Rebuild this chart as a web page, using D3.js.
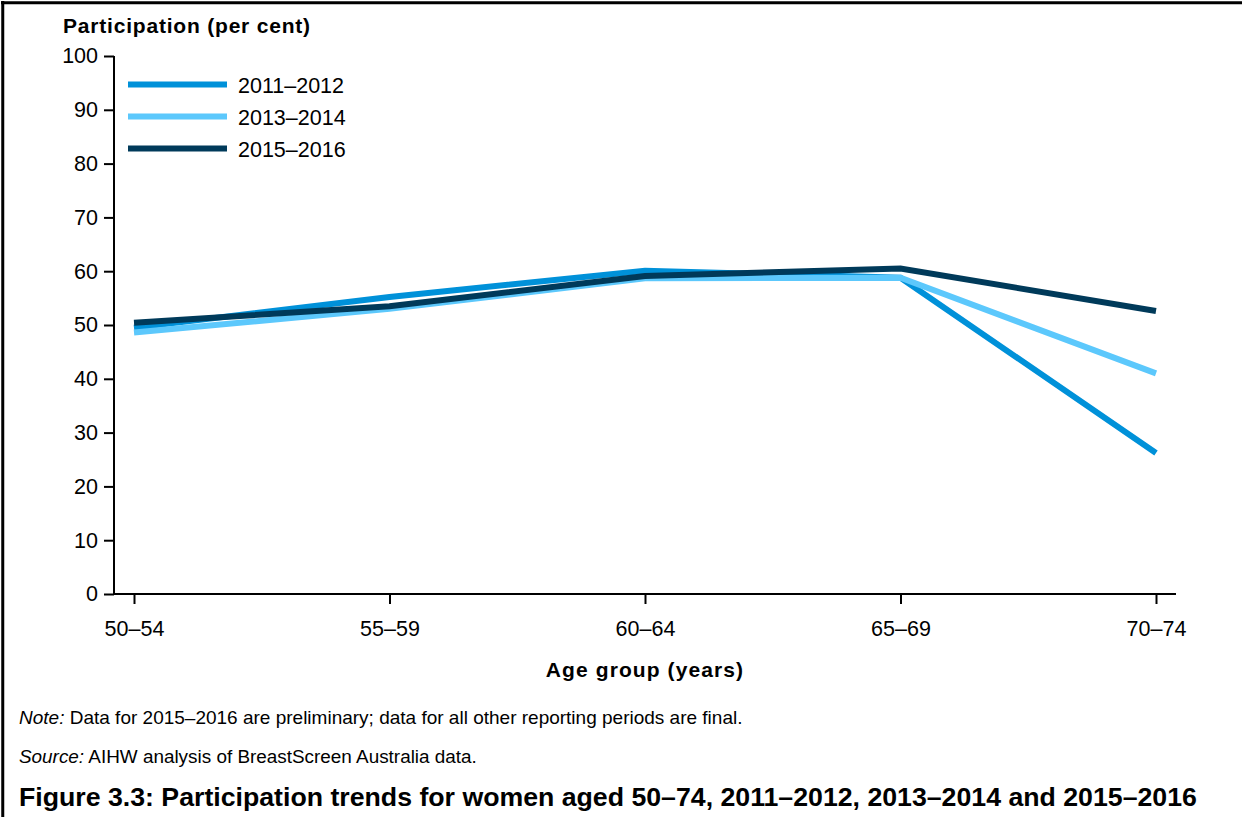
<!DOCTYPE html>
<html>
<head>
<meta charset="utf-8">
<script src="https://cdn.jsdelivr.net/npm/d3@7"></script>
<style>
  html, body { margin: 0; padding: 0; background: #fff; }
  svg { display: block; font-family: "Liberation Sans", Arial, sans-serif; }
</style>
</head>
<body>
<svg id="chart" width="1242" height="817"></svg>
<script>
const categories = ["50–54", "55–59", "60–64", "65–69", "70–74"];
const seriesNames = ["2011–2012", "2013–2014", "2015–2016"];
const values2011 = [49.5, 55.2, 60.1, 58.8, 26.2];
const values2013 = [48.6, 53.0, 58.7, 58.8, 41.0];
const values2015 = [50.4, 53.5, 59.1, 60.5, 52.6];
const seriesColors = ["#0091d9", "#5cc8fc", "#003a5a"];
const yTicks = [0, 10, 20, 30, 40, 50, 60, 70, 80, 90, 100];

const series = [
  { name: seriesNames[0], values: values2011, color: seriesColors[0] },
  { name: seriesNames[1], values: values2013, color: seriesColors[1] },
  { name: seriesNames[2], values: values2015, color: seriesColors[2] }
];

const FONT = "Liberation Sans, Arial, sans-serif";
const svg = d3.select("#chart");

// outer frame (top and left visible)
svg.append("line").attr("x1", 1).attr("y1", 2.75).attr("x2", 1242).attr("y2", 2.75)
  .attr("stroke", "#000").attr("stroke-width", 3);
svg.append("line").attr("x1", 2.75).attr("y1", 1).attr("x2", 2.75).attr("y2", 817)
  .attr("stroke", "#000").attr("stroke-width", 3);

const x = d3.scalePoint().domain(categories).range([134, 1156]);
const y = d3.scaleLinear().domain([0, 100]).range([594, 56]);

// y axis
const yAxis = svg.append("g").attr("transform", "translate(114,0)")
  .call(d3.axisLeft(y).tickValues(yTicks).tickSize(10).tickPadding(6).tickSizeOuter(0));
yAxis.select(".domain").attr("stroke", "#000").attr("stroke-width", 2)
  .attr("d", `M0,${y(100)}V${y(0)}`);
yAxis.selectAll(".tick line").attr("stroke", "#000").attr("stroke-width", 2);
yAxis.selectAll(".tick text").attr("font-size", 21.5).attr("fill", "#000")
  .attr("font-family", FONT);

// x axis
const xAxis = svg.append("g").attr("transform", `translate(0,${y(0)})`)
  .call(d3.axisBottom(x).tickSize(10).tickPadding(17).tickSizeOuter(0));
xAxis.select(".domain").attr("stroke", "#000").attr("stroke-width", 2)
  .attr("d", "M114,0H1176");
xAxis.selectAll(".tick line").attr("stroke", "#000").attr("stroke-width", 2);
xAxis.selectAll(".tick text").attr("font-size", 21.5).attr("fill", "#000")
  .attr("font-family", FONT);

// axis titles
svg.append("text").attr("x", 63).attr("y", 33)
  .attr("font-size", 21).attr("font-weight", "bold").attr("letter-spacing", 0.8).attr("fill", "#000")
  .text("Participation (per cent)");
svg.append("text").attr("x", 645).attr("y", 677).attr("text-anchor", "middle")
  .attr("font-size", 21).attr("font-weight", "bold").attr("letter-spacing", 1.1).attr("fill", "#000")
  .text("Age group (years)");

// lines
const line = d3.line().x((d, i) => x(categories[i])).y(d => y(d));
svg.append("g").selectAll("path").data(series).join("path")
  .attr("d", d => line(d.values))
  .attr("fill", "none")
  .attr("stroke", d => d.color)
  .attr("stroke-width", 6)
  .attr("stroke-linejoin", "miter");

// legend
const legend = svg.append("g");
series.forEach((s, i) => {
  const ly = 84.5 + i * 32;
  legend.append("line").attr("x1", 128).attr("x2", 227).attr("y1", ly).attr("y2", ly)
    .attr("stroke", s.color).attr("stroke-width", 6);
  legend.append("text").attr("x", 238).attr("y", ly + 8.5)
    .attr("font-size", 21.5).attr("fill", "#000").text(s.name);
});

// notes
const note = svg.append("text").attr("x", 19).attr("y", 724).attr("font-size", 19).attr("fill", "#000");
note.append("tspan").attr("font-style", "italic").text("Note:");
note.append("tspan").text(" Data for 2015–2016 are preliminary; data for all other reporting periods are final.");
const src = svg.append("text").attr("x", 19).attr("y", 763).attr("font-size", 18.9).attr("fill", "#000");
src.append("tspan").attr("font-style", "italic").text("Source:");
src.append("tspan").text(" AIHW analysis of BreastScreen Australia data.");

svg.append("text").attr("x", 19).attr("y", 806)
  .attr("font-size", 26.7).attr("font-weight", "bold").attr("fill", "#000")
  .text("Figure 3.3: Participation trends for women aged 50–74, 2011–2012, 2013–2014 and 2015–2016");
</script>
</body>
</html>
